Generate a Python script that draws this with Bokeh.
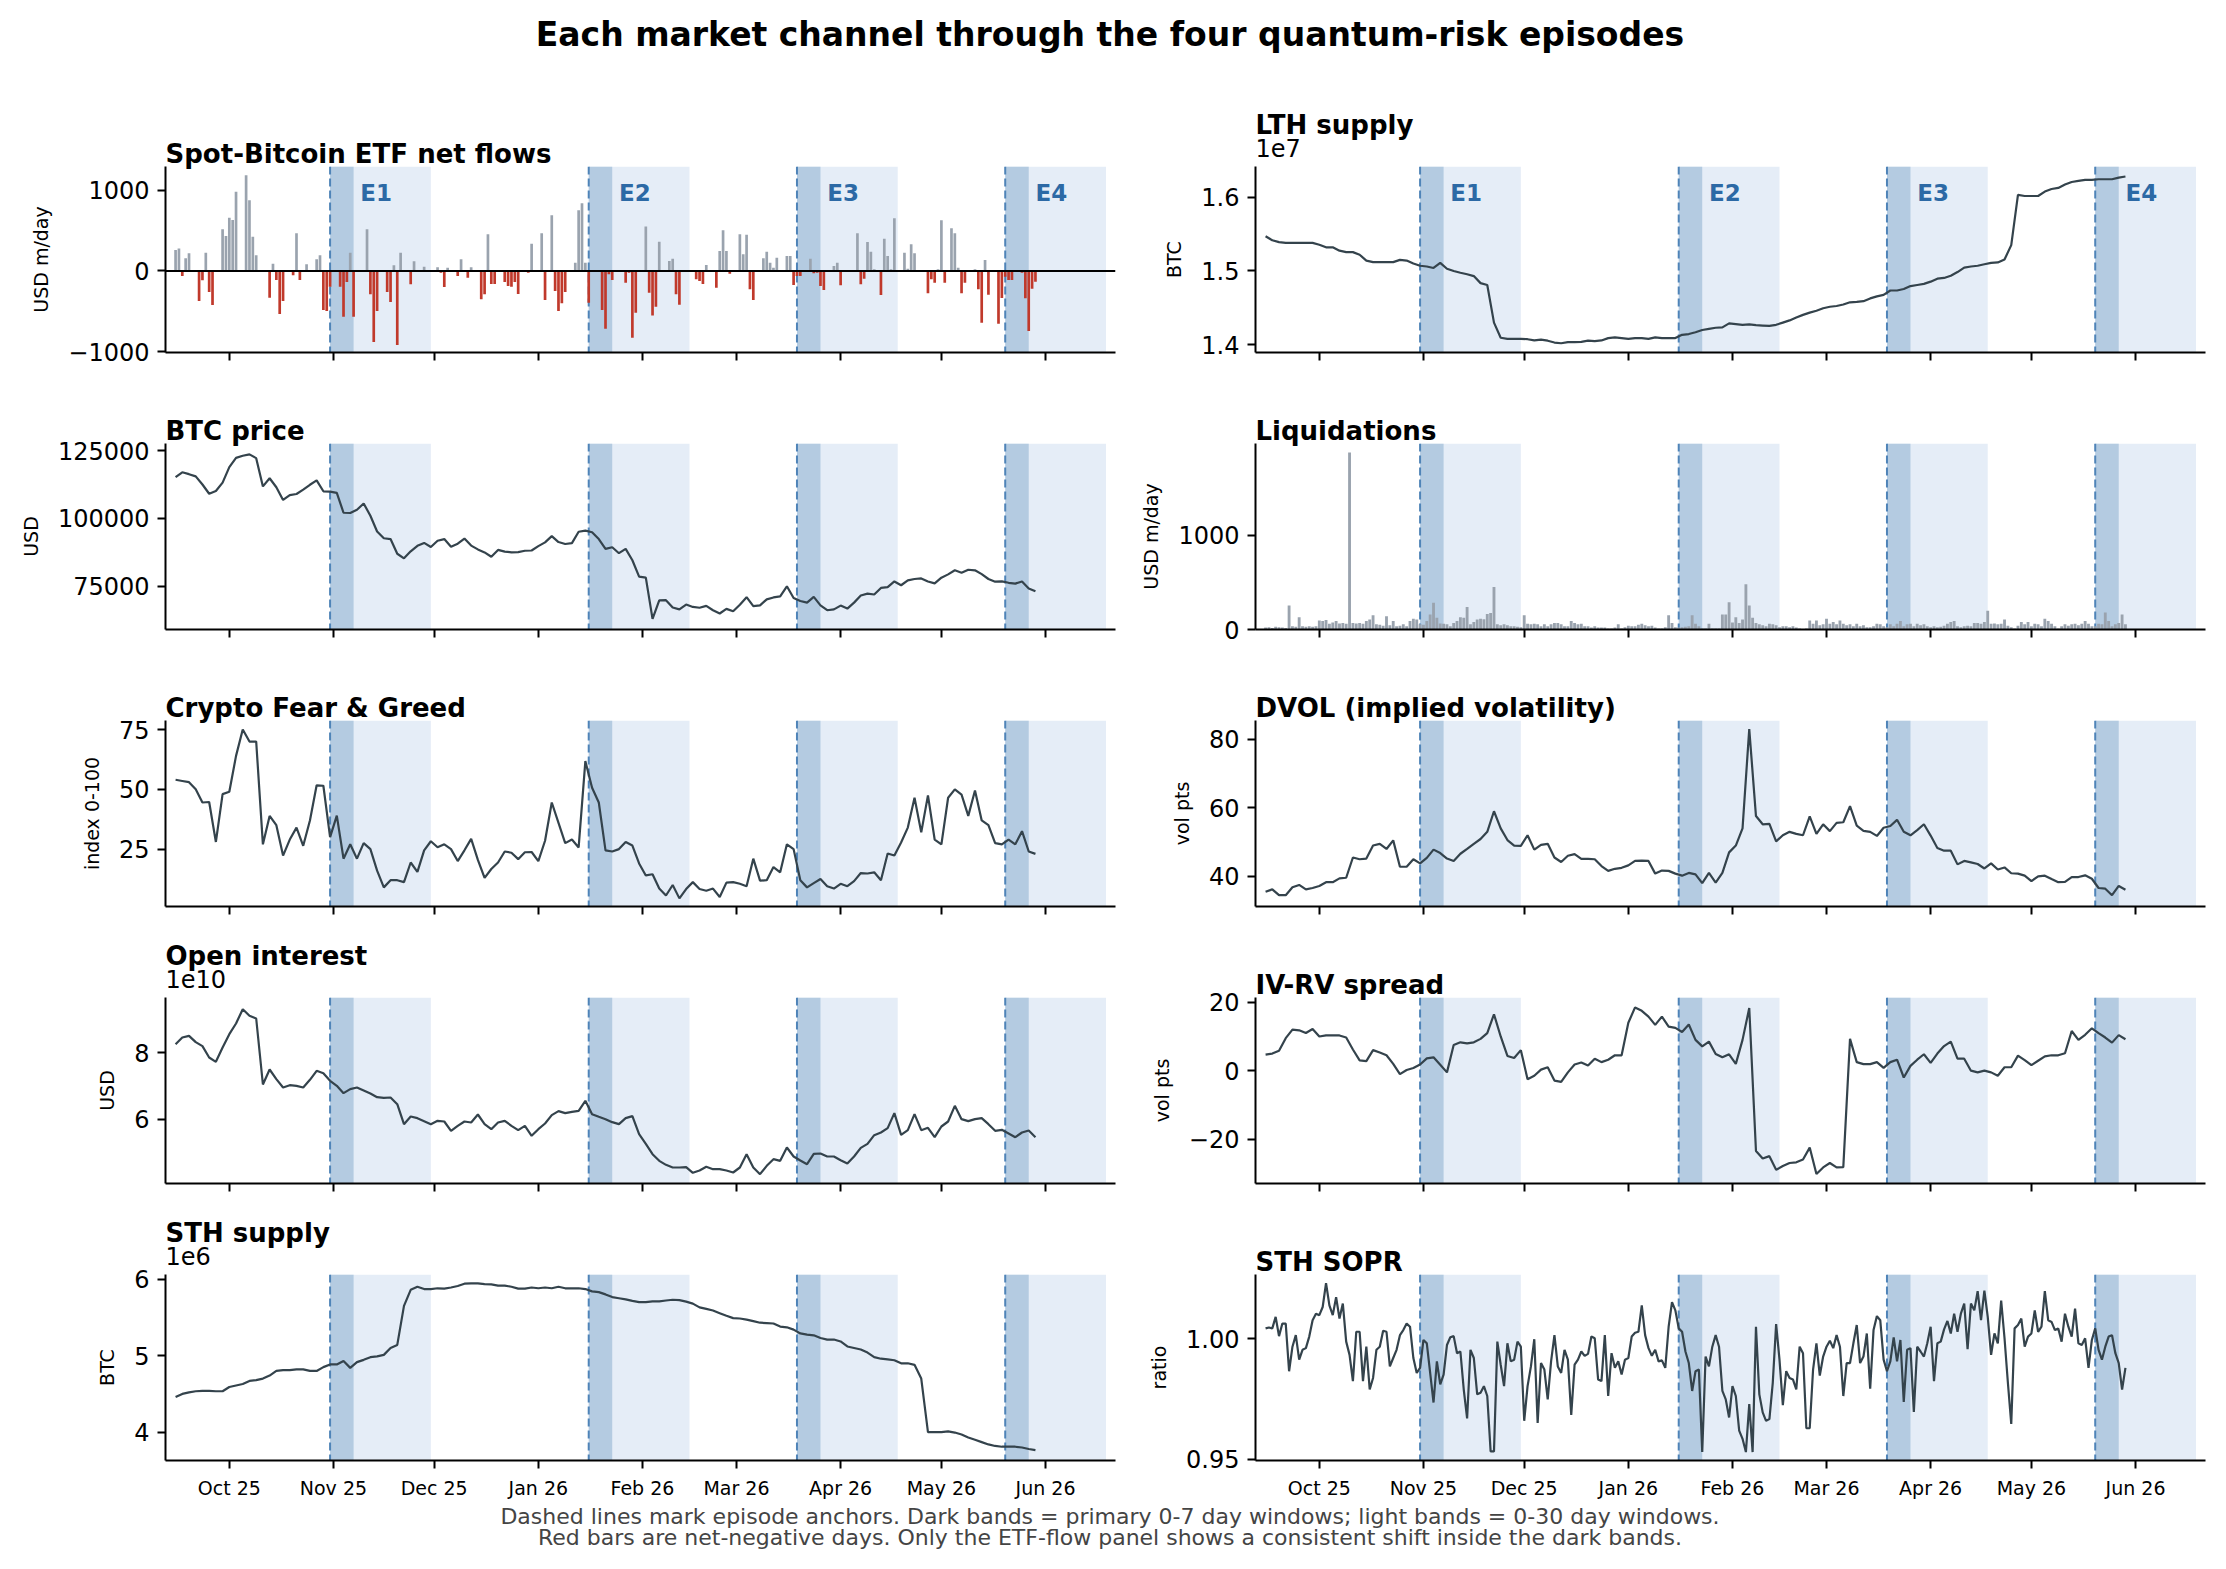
import pandas as pd
from bokeh.plotting import figure
from bokeh.layouts import gridplot, column
from bokeh.models import (Range1d, FixedTicker, MonthsTicker, DatetimeTickFormatter,
                          BoxAnnotation, Span, Label, Title, Div, PrintfTickFormatter,
                          BasicTickFormatter, CustomLabelingPolicy)
from bokeh.embed import file_html
from bokeh.resources import INLINE

# ---------------- data ----------------
series_start = "2025-09-15"          # first observation
episode_names = ["E1", "E2", "E3", "E4"]
episode_anchors = ["2025-10-31", "2026-01-16", "2026-03-19", "2026-05-20"]
primary_window_days = 7
full_window_days = 30

# Spot-Bitcoin ETF net flows, USD m/day (trading days)
etf_dates = [
    "2025-09-15", "2025-09-16", "2025-09-17", "2025-09-18", "2025-09-19", "2025-09-22", "2025-09-23",
    "2025-09-24", "2025-09-25", "2025-09-26", "2025-09-29", "2025-09-30", "2025-10-01", "2025-10-02",
    "2025-10-03", "2025-10-06", "2025-10-07", "2025-10-08", "2025-10-09", "2025-10-13", "2025-10-14",
    "2025-10-15", "2025-10-16", "2025-10-17", "2025-10-20", "2025-10-21", "2025-10-22", "2025-10-24",
    "2025-10-27", "2025-10-28", "2025-10-29", "2025-10-30", "2025-10-31", "2025-11-03", "2025-11-04",
    "2025-11-05", "2025-11-06", "2025-11-07", "2025-11-11", "2025-11-12", "2025-11-13", "2025-11-14",
    "2025-11-17", "2025-11-18", "2025-11-19", "2025-11-20", "2025-11-21", "2025-11-24", "2025-11-25",
    "2025-11-28", "2025-12-02", "2025-12-03", "2025-12-04", "2025-12-05", "2025-12-08", "2025-12-09",
    "2025-12-11", "2025-12-12", "2025-12-15", "2025-12-16", "2025-12-17", "2025-12-18", "2025-12-19",
    "2025-12-22", "2025-12-23", "2025-12-24", "2025-12-25", "2025-12-26", "2025-12-29", "2025-12-30",
    "2026-01-02", "2026-01-03", "2026-01-05", "2026-01-06", "2026-01-07", "2026-01-08", "2026-01-09",
    "2026-01-12", "2026-01-13", "2026-01-14", "2026-01-15", "2026-01-16", "2026-01-20", "2026-01-21",
    "2026-01-22", "2026-01-23", "2026-01-27", "2026-01-28", "2026-01-29", "2026-01-30", "2026-02-02",
    "2026-02-03", "2026-02-04", "2026-02-05", "2026-02-06", "2026-02-09", "2026-02-10", "2026-02-11",
    "2026-02-12", "2026-02-17", "2026-02-18", "2026-02-19", "2026-02-20", "2026-02-23", "2026-02-24",
    "2026-02-25", "2026-02-26", "2026-02-27", "2026-03-02", "2026-03-03", "2026-03-04", "2026-03-05",
    "2026-03-06", "2026-03-09", "2026-03-10", "2026-03-11", "2026-03-12", "2026-03-13", "2026-03-16",
    "2026-03-17", "2026-03-18", "2026-03-19", "2026-03-20", "2026-03-23", "2026-03-24", "2026-03-25",
    "2026-03-26", "2026-03-27", "2026-03-30", "2026-03-31", "2026-04-01", "2026-04-06", "2026-04-07",
    "2026-04-08", "2026-04-09", "2026-04-10", "2026-04-11", "2026-04-13", "2026-04-14", "2026-04-15",
    "2026-04-16", "2026-04-17", "2026-04-20", "2026-04-21", "2026-04-22", "2026-04-23", "2026-04-27",
    "2026-04-28", "2026-04-29", "2026-04-30", "2026-05-01", "2026-05-02", "2026-05-04", "2026-05-05",
    "2026-05-06", "2026-05-07", "2026-05-08", "2026-05-11", "2026-05-12", "2026-05-13", "2026-05-14",
    "2026-05-15", "2026-05-18", "2026-05-19", "2026-05-20", "2026-05-21", "2026-05-22", "2026-05-25",
    "2026-05-26", "2026-05-27", "2026-05-28", "2026-05-29",
]
etf_flows = [
    260, 280, -62, 157, 219, -372, -116,
    227, -260, -421, 516, 434, 661, 632,
    983, 1186, 876, 425, 194, -330, 91,
    -112, -533, -372, -54, 467, -112, 83,
    145, 194, -483, -496, -194, -194, -566,
    -136, 227, -566, 516, -289, -880, -496,
    -260, -384, 70, -917, 227, -165, 120,
    54, 45, -21, -198, 41, -62, 145,
    -83, 45, -351, -289, 455, -161, -161,
    -136, -186, -194, -136, -285, -21, 339,
    467, -360, 690, -248, -496, -401, -260,
    103, 752, 839, 103, -393, -483, -715,
    -41, -112, -145, -21, -826, -516, 550,
    -269, -550, -442, 364, 124, 153, -289,
    -417, -103, -124, -161, 74, -207, 248,
    504, 248, -33, 455, 207, 450, -227,
    -360, 157, 240, 103, 41, 165, 186,
    186, -174, -62, -62, 153, -29, -21,
    -186, -236, 62, 103, -178, 467, -165,
    -95, 360, 240, 21, -298, 401, 186,
    21, 653, 227, 29, 331, 219, -277,
    -103, -145, 21, 628, -145, 529, 467,
    41, -277, -145, 21, -227, -640, 136,
    -293, -653, -335, -70, -112, -112, -21,
    -339, -744, -219, -132,
]

# 2-day sampled series (Sep 15 2025 ... May 29 2026)
btc_price_k = [
    115.2, 117.0, 116.3, 115.5, 112.5, 109.1, 110.1, 113.2, 118.9, 122.3,
    123.1, 123.6, 122.2, 111.8, 114.8, 111.5, 106.8, 108.6, 109.0, 110.6,
    112.4, 114.0, 110.0, 109.9, 109.4, 102.1, 102.0, 103.2, 105.5, 101.0,
    95.2, 92.7, 92.4, 87.0, 85.3, 87.9, 89.9, 91.0, 89.5, 91.8,
    92.4, 89.6, 90.7, 92.6, 90.0, 88.6, 87.5, 85.9, 88.4, 87.8,
    87.5, 87.6, 88.1, 88.2, 89.8, 91.2, 93.5, 91.3, 90.6, 90.9,
    95.1, 95.5, 94.9, 92.4, 88.8, 89.4, 87.2, 88.8, 84.6, 78.6,
    78.2, 63.0, 69.8, 69.9, 67.2, 66.5, 68.3, 67.4, 67.1, 67.8,
    66.2, 65.0, 66.7, 65.8, 68.2, 71.0, 67.7, 68.0, 70.2, 70.9,
    71.3, 75.0, 70.7, 69.6, 69.0, 71.1, 68.0, 66.2, 66.5, 67.9,
    66.8, 69.0, 71.6, 72.3, 72.0, 74.4, 74.7, 76.8, 75.4, 77.2,
    77.7, 77.9, 76.8, 76.1, 78.2, 79.4, 80.9, 80.0, 81.1, 80.9,
    79.5, 77.7, 76.7, 76.8, 76.3, 76.0, 76.8, 74.2, 73.2,
]
fear_greed = [
    54, 53.5, 53, 50, 44.5, 44.7, 28, 48, 49, 64,
    75, 70, 70, 27, 38.9, 35, 22.3, 29, 34, 26.4,
    37, 51.7, 51.5, 30, 39, 21, 27, 21, 27.5, 25,
    16, 9, 12, 12, 11.2, 19.4, 15.5, 24.5, 28.3, 25.8,
    27, 25, 20, 24.5, 29.3, 20.5, 13, 16.7, 19.4, 24,
    23.5, 20.8, 23.7, 23.8, 20, 28.5, 44.5, 36, 27.5, 29,
    25.7, 61.8, 50.7, 44.5, 24.5, 24, 25, 28, 26.5, 19,
    14, 14.5, 8.5, 5.6, 10, 4.4, 8.3, 11.2, 8.3, 7.6,
    8.5, 5, 11, 11.2, 10.5, 9.5, 21, 11.8, 12, 17.5,
    15.3, 27, 25, 12, 9, 10.8, 12.5, 9.5, 8.5, 10.5,
    9.5, 11.6, 15, 14.8, 15.3, 12, 23.2, 22.3, 27.8, 34,
    46.5, 32, 47.5, 29, 27, 46.5, 50, 47.8, 38.9, 49.5,
    37, 35, 27.5, 27, 29, 27, 32.5, 24, 23,
]
open_interest_1e10 = [
    8.25, 8.45, 8.50, 8.31, 8.19, 7.85, 7.72, 8.15, 8.55, 8.87,
    9.30, 9.10, 9.02, 7.04, 7.49, 7.20, 6.95, 7.02, 7.00, 6.95,
    7.18, 7.45, 7.38, 7.15, 7.00, 6.78, 6.90, 6.95, 6.86, 6.77,
    6.66, 6.64, 6.65, 6.45, 5.85, 6.08, 6.03, 5.94, 5.85, 5.95,
    5.93, 5.65, 5.80, 5.93, 5.90, 6.14, 5.85, 5.70, 5.90, 5.95,
    5.80, 5.67, 5.80, 5.50, 5.70, 5.87, 6.12, 6.24, 6.18, 6.22,
    6.25, 6.55, 6.15, 6.07, 6.00, 5.91, 5.85, 6.03, 6.09, 5.55,
    5.26, 4.95, 4.75, 4.63, 4.55, 4.55, 4.56, 4.39, 4.46, 4.57,
    4.50, 4.50, 4.46, 4.40, 4.55, 4.95, 4.55, 4.35, 4.60, 4.80,
    4.75, 5.15, 4.88, 4.76, 4.65, 4.96, 4.97, 4.88, 4.88, 4.77,
    4.67, 4.88, 5.14, 5.26, 5.52, 5.60, 5.73, 6.18, 5.53, 5.67,
    6.15, 5.67, 5.74, 5.46, 5.78, 5.93, 6.40, 6.00, 5.94, 6.00,
    6.03, 5.85, 5.65, 5.68, 5.57, 5.46, 5.60, 5.66, 5.46,
]
sth_supply_1e6 = [
    4.46, 4.50, 4.52, 4.535, 4.54, 4.54, 4.535, 4.535, 4.59, 4.61,
    4.63, 4.67, 4.68, 4.70, 4.74, 4.80, 4.81, 4.81, 4.82, 4.82,
    4.80, 4.80, 4.85, 4.885, 4.885, 4.93, 4.84, 4.915, 4.945, 4.98,
    4.99, 5.01, 5.10, 5.14, 5.65, 5.86, 5.90, 5.87, 5.87, 5.88,
    5.875, 5.89, 5.91, 5.94, 5.945, 5.945, 5.935, 5.93, 5.915, 5.915,
    5.90, 5.875, 5.875, 5.89, 5.88, 5.89, 5.88, 5.90, 5.88, 5.88,
    5.88, 5.87, 5.84, 5.83, 5.80, 5.765, 5.75, 5.735, 5.715, 5.70,
    5.70, 5.71, 5.71, 5.72, 5.73, 5.725, 5.705, 5.68, 5.63, 5.61,
    5.59, 5.555, 5.52, 5.49, 5.485, 5.47, 5.45, 5.43, 5.425, 5.42,
    5.38, 5.37, 5.34, 5.29, 5.275, 5.265, 5.23, 5.21, 5.21, 5.185,
    5.12, 5.10, 5.08, 5.04, 4.98, 4.96, 4.95, 4.94, 4.90, 4.90,
    4.88, 4.70, 4.00, 4.00, 4.00, 4.01, 3.995, 3.97, 3.93, 3.90,
    3.87, 3.84, 3.82, 3.81, 3.81, 3.81, 3.80, 3.78, 3.765,
]
lth_supply_1e7 = [
    1.547, 1.5415, 1.539, 1.538, 1.538, 1.538, 1.538, 1.538, 1.5355, 1.532,
    1.532, 1.5275, 1.5255, 1.5255, 1.522, 1.514, 1.512, 1.512, 1.512, 1.512,
    1.515, 1.514, 1.510, 1.507, 1.506, 1.504, 1.511, 1.503, 1.500, 1.4975,
    1.4955, 1.493, 1.4835, 1.481, 1.430, 1.4095, 1.408, 1.408, 1.408, 1.4075,
    1.406, 1.407, 1.4055, 1.403, 1.402, 1.4035, 1.4035, 1.404, 1.4055, 1.405,
    1.4058, 1.409, 1.410, 1.409, 1.408, 1.409, 1.409, 1.408, 1.410, 1.409,
    1.409, 1.409, 1.4135, 1.4145, 1.417, 1.420, 1.4215, 1.423, 1.4235, 1.429,
    1.428, 1.427, 1.4275, 1.4265, 1.426, 1.4255, 1.427, 1.430, 1.433, 1.437,
    1.4405, 1.4435, 1.446, 1.4495, 1.4515, 1.4525, 1.4545, 1.4575, 1.458, 1.459,
    1.4628, 1.4655, 1.4675, 1.4735, 1.4735, 1.4755, 1.4795, 1.481, 1.4825, 1.4855,
    1.4895, 1.4905, 1.4935, 1.4985, 1.5045, 1.506, 1.507, 1.509, 1.511, 1.5115,
    1.5155, 1.535, 1.603, 1.6015, 1.6015, 1.6015, 1.6075, 1.611, 1.6125, 1.617,
    1.6205, 1.622, 1.6233, 1.6233, 1.6242, 1.6242, 1.6242, 1.6265, 1.628,
]
dvol = [
    35.5, 36.2, 34.5, 34.5, 36.8, 37.5, 36.2, 36.6, 37.2, 38.3,
    38.3, 39.4, 39.6, 45.5, 45.0, 45.2, 49.0, 49.5, 48.0, 50.5,
    42.8, 42.8, 45.0, 43.8, 45.4, 47.8, 46.8, 45.2, 44.5, 46.6,
    48.0, 49.5, 50.9, 53.0, 59.0, 54.0, 50.6, 49.0, 48.9, 52.0,
    47.8, 49.2, 49.5, 45.5, 44.2, 46.0, 46.5, 45.1, 45.1, 45.0,
    43.0, 41.6, 42.2, 42.5, 43.2, 44.5, 44.6, 44.5, 40.8, 41.7,
    41.6, 40.8, 40.2, 41.0, 40.6, 38.0, 41.0, 38.2, 41.0, 47.0,
    49.0, 54.0, 83.0, 57.6, 55.2, 55.3, 50.2, 52.0, 53.0, 52.4,
    52.0, 57.5, 52.4, 55.2, 53.2, 55.6, 55.8, 60.5, 54.8, 53.3,
    53.0, 51.8, 54.2, 54.7, 56.5, 53.0, 52.0, 53.5, 55.2, 51.9,
    48.3, 47.5, 47.5, 43.5, 44.5, 44.1, 43.6, 42.3, 43.8, 42.0,
    42.6, 40.9, 40.8, 40.2, 38.6, 40.0, 40.2, 39.2, 38.3, 38.4,
    39.8, 39.8, 40.3, 39.3, 36.6, 36.4, 34.5, 37.2, 36.1,
]
iv_rv_spread = [
    4.7, 5.0, 5.8, 9.5, 12.0, 11.8, 11.0, 12.2, 10.0, 10.3,
    10.3, 10.3, 9.7, 6.2, 3.0, 2.8, 6.0, 5.3, 4.5, 2.0,
    -1.0, 0.2, 0.8, 1.8, 3.6, 3.9, 1.7, -0.5, 7.5, 8.3,
    8.0, 8.3, 9.3, 11.0, 16.5, 10.0, 4.3, 3.7, 6.0, -2.5,
    -1.5, 0.3, 1.0, -2.9, -3.3, -0.5, 1.8, 2.4, 1.5, 3.5,
    2.5, 3.2, 4.5, 4.5, 14.0, 18.5, 17.5, 15.8, 13.4, 15.8,
    12.9, 12.5, 11.3, 13.5, 9.0, 7.1, 8.5, 4.9, 3.9, 4.8,
    2.0, 9.0, 18.3, -23.5, -25.7, -25.0, -29.0, -27.9, -27.0, -26.8,
    -26.0, -22.5, -30.2, -28.3, -27.0, -28.3, -28.2, 9.3, 2.5, 1.9,
    1.9, 2.5, 0.8, 2.5, 3.2, -2.0, 1.4, 3.2, 4.8, 2.3,
    5.0, 7.2, 8.5, 3.5, 3.5, 0.0, -0.5, 0.0, -0.5, -1.5,
    1.0, 1.0, 4.4, 3.1, 1.6, 2.9, 4.2, 4.5, 4.5, 5.1,
    11.6, 9.0, 10.5, 12.4, 11.0, 9.7, 8.2, 10.4, 9.2,
]

# daily series (Sep 15 2025 ... May 29 2026)
liquidations = [
    20, 25, 15, 30, 25, 20, 15, 255, 35, 30, 130, 35, 30, 35, 30, 35,
    95, 90, 100, 60, 75, 90, 65, 70, 60, 1880,
    70, 65, 70, 60, 90, 105, 150, 55, 50, 40,
    140, 45, 90, 35, 40, 55, 35, 90, 115, 105,
    55, 50, 90, 160, 285, 125, 65, 60, 55, 35,
    70, 90, 130, 125, 240, 55, 80, 105, 115, 110,
    165, 175, 450, 55, 45, 55, 45, 35, 35, 30,
    25, 150, 60, 55, 60, 55, 35, 55, 35, 55,
    70, 70, 55, 35, 35, 90, 70, 55, 60, 35,
    35, 20, 35, 20, 20, 20, 10, 10, 20, 55,
    10, 25, 40, 35, 35, 50, 60, 45, 35, 40,
    20, 10, 10, 25, 150, 70, 25, 20, 25, 30,
    35, 150, 60, 35, 10, 10, 60, 10, 10, 10,
    160, 160, 290, 75, 130, 70, 105, 480, 255, 125,
    70, 55, 45, 35, 60, 55, 45, 25, 35, 35,
    25, 35, 20, 10, 5, 10, 95, 60, 95, 45,
    55, 113, 60, 80, 55, 95, 60, 45, 55, 35,
    60, 35, 45, 25, 25, 35, 60, 55, 35, 25,
    55, 35, 60, 90, 35, 55, 60, 35, 60, 45,
    55, 35, 25, 35, 25, 30, 40, 60, 80, 90,
    35, 25, 35, 40, 35, 70, 70, 60, 80, 200,
    60, 65, 55, 60, 105, 40, 25, 10, 40, 80,
    55, 80, 35, 60, 55, 35, 113, 90, 60, 35,
    10, 35, 55, 40, 55, 60, 45, 60, 90, 60,
    35, 35, 60, 55, 180, 90, 35, 55, 70, 160, 55,
]
sth_sopr = [
    1.0044, 1.0048, 1.0044, 1.0092, 1.0012, 1.0064, 1.0064, 0.9866, 0.9968, 1.0016,
    0.9914, 0.9955, 0.9962, 1.0010, 1.0078, 1.0105, 1.0099, 1.0133, 1.0232, 1.0140,
    1.0099, 1.0174, 1.0085, 1.0147, 0.9989, 0.9934, 0.9825, 1.0030, 1.0030, 0.9825,
    0.9968, 0.9790, 0.9838, 0.9955, 0.9968, 1.0034, 1.0030, 0.9886, 0.9921, 0.9955,
    1.0016, 1.0037, 1.0064, 1.0051, 0.9921, 0.9859, 0.9880, 0.9996, 0.9982, 0.9859,
    0.9736, 0.9907, 0.9811, 0.9852, 0.9975, 1.0007, 1.0012, 0.9941, 0.9948, 0.9790,
    0.9670, 0.9955, 0.9921, 0.9770, 0.9777, 0.9804, 0.9763, 0.9533, 0.9533, 0.9989,
    0.9893, 0.9804, 0.9982, 0.9907, 0.9914, 0.9989, 0.9968, 0.9660, 0.9804, 0.9886,
    0.9999, 0.9651, 0.9900, 0.9873, 0.9749, 0.9907, 1.0016, 0.9886, 0.9859, 0.9955,
    0.9914, 0.9684, 0.9893, 0.9914, 0.9948, 0.9930, 0.9938, 1.0010, 1.0003, 0.9832,
    0.9825, 1.0016, 0.9763, 0.9941, 0.9880, 0.9907, 0.9852, 0.9914, 0.9921, 1.0010,
    1.0026, 1.0030, 1.0140, 1.0016, 0.9962, 0.9930, 0.9955, 0.9907, 0.9911, 0.9880,
    1.0051, 1.0153, 1.0119, 1.0044, 1.0030, 0.9948, 0.9900, 0.9784, 0.9866, 0.9873,
    0.9530, 0.9927, 0.9886, 0.9968, 1.0016, 0.9968, 0.9784, 0.9749, 0.9674, 0.9804,
    0.9763, 0.9619, 0.9585, 0.9530, 0.9729, 0.9530, 1.0051, 0.9770, 0.9695, 0.9660,
    0.9667, 0.9818, 1.0062, 0.9914, 0.9725, 0.9866, 0.9838, 0.9832, 0.9790, 0.9968,
    0.9941, 0.9629, 0.9629, 0.9873, 0.9982, 0.9848, 0.9927, 0.9968, 0.9993, 0.9962,
    1.0016, 0.9968, 0.9763, 0.9900, 0.9900, 0.9982, 1.0058, 0.9900, 0.9927, 1.0023,
    0.9793, 1.0037, 1.0095, 1.0078, 0.9914, 0.9866, 0.9907, 1.0007, 0.9907, 0.9996,
    0.9738, 0.9955, 0.9962, 0.9697, 0.9968, 0.9948, 0.9927, 0.9982, 1.0051, 0.9825,
    0.9982, 0.9989, 1.0040, 1.0075, 1.0023, 1.0105, 1.0030, 1.0105, 1.0147, 0.9958,
    1.0147, 1.0119, 1.0199, 1.0078, 1.0201, 1.0092, 0.9934, 1.0023, 0.9982, 1.0160,
    1.0003, 0.9818, 0.9647, 1.0044, 1.0058, 1.0085, 0.9968, 1.0010, 1.0023, 1.0119,
    1.0030, 1.0051, 1.0199, 1.0078, 1.0071, 1.0037, 1.0044, 0.9989, 1.0105, 1.0051,
    1.0010, 1.0126, 0.9982, 0.9975, 1.0003, 0.9880, 0.9996, 1.0044, 0.9955, 0.9914,
    0.9968, 1.0010, 1.0016, 0.9941, 0.9900, 0.9790, 0.9880,
]

title_text = "Each market channel through the four quantum-risk episodes"
footer_lines = [
    "Dashed lines mark episode anchors. Dark bands = primary 0-7 day windows; light bands = 0-30 day windows.",
    "Red bars are net-negative days. Only the ETF-flow panel shows a consistent shift inside the dark bands.",
]

# ---------------- styling ----------------
FONT = "DejaVu Sans"
LINE_COLOR = "#34434c"
BAR_GRAY = "#9aa3ae"
BAR_RED = "#c0392b"
DARK_BAND = "#b4cbe1"
LIGHT_BAND = "#e5edf7"
ANCHOR_COLOR = "#4f84b8"
ELABEL_COLOR = "#2c69a5"
DAY_MS = 86400000.0


def ms(t):
    return pd.Timestamp(t).value / 1e6


dates_2d = pd.date_range(series_start, periods=len(btc_price_k), freq="2D")
dates_1d = pd.date_range(series_start, periods=len(liquidations), freq="D")
etf_x = pd.to_datetime(etf_dates)

x_range = Range1d(start=ms("2025-09-12"), end=ms("2026-06-21 20:00"))

HIDE_LABELS = "for (const i of indices) { indices.unset(i) }\nreturn indices"


def make_panel(title, ylabel, yr, yticks, left_col, last_row, offset_text=None,
               fmt=None, overrides=None, episode_labels=False):
    p = figure(x_axis_type="datetime", x_range=x_range, y_range=Range1d(*yr),
               frame_width=950, frame_height=186,
               min_border_left=165 if left_col else 130, min_border_right=10,
               min_border_top=71, min_border_bottom=42 if last_row else 20,
               toolbar_location=None, output_backend="svg")
    p.outline_line_color = None
    p.xgrid.visible = False
    p.ygrid.visible = False
    p.background_fill_color = "white"
    p.border_fill_color = "white"

    # titles stack upward from the frame: exponent text first, panel title above it
    if offset_text:
        p.add_layout(Title(text=offset_text, text_font=FONT, text_font_size="24px",
                           text_font_style="normal", align="left", standoff=20,
                           text_color="black"), "above")
        p.add_layout(Title(text=title, text_font=FONT, text_font_size="26px",
                           text_font_style="bold", align="left", standoff=-27,
                           text_color="black"), "above")
    else:
        p.add_layout(Title(text=title, text_font=FONT, text_font_size="26px",
                           text_font_style="bold", align="left", standoff=-5,
                           text_color="black"), "above")

    # axes
    for ax in (p.xaxis[0], p.yaxis[0]):
        ax.axis_line_width = 2
        ax.axis_line_color = "black"
        ax.major_tick_line_width = 2
        ax.major_tick_line_color = "black"
        ax.major_tick_out = 8
        ax.major_tick_in = 0
        ax.minor_tick_line_color = None
        ax.major_label_text_font = FONT
        ax.major_label_text_color = "black"
    xa = p.xaxis[0]
    xa.ticker = MonthsTicker(months=list(range(12)))
    xa.formatter = DatetimeTickFormatter(days="%b %y", months="%b %y", years="%b %y")
    if last_row:
        xa.major_label_text_font_size = "19px"
        xa.major_label_standoff = 8
    else:
        # shared x axis: tick marks only, no labels (like sharex=True)
        xa.major_label_policy = CustomLabelingPolicy(code=HIDE_LABELS)
        xa.major_label_text_font_size = "1px"
        xa.major_label_standoff = 0
    ya = p.yaxis[0]
    ya.ticker = FixedTicker(ticks=yticks, minor_ticks=[])
    ya.major_label_text_font_size = "24px"
    ya.major_label_standoff = 8
    ya.axis_label = ylabel
    ya.axis_label_text_font = FONT
    ya.axis_label_text_font_size = "19px"
    ya.axis_label_text_font_style = "normal"
    ya.axis_label_text_color = "black"
    ya.axis_label_standoff = 13
    if fmt is not None:
        ya.formatter = fmt
    else:
        ya.formatter = BasicTickFormatter(use_scientific=False)
    if overrides:
        ya.major_label_overrides = overrides

    # episode windows
    for name, a in zip(episode_names, episode_anchors):
        a_ms = ms(a)
        p.add_layout(BoxAnnotation(left=a_ms, right=a_ms + full_window_days * DAY_MS,
                                   fill_color=LIGHT_BAND, fill_alpha=1.0, line_color=None,
                                   level="underlay"))
        p.add_layout(BoxAnnotation(left=a_ms, right=a_ms + primary_window_days * DAY_MS,
                                   fill_color=DARK_BAND, fill_alpha=1.0, line_color=None,
                                   level="underlay"))
        p.add_layout(Span(location=a_ms, dimension="height", line_color=ANCHOR_COLOR,
                          line_width=2, line_dash="8 4", level="underlay"))
        if episode_labels:
            p.add_layout(Label(x=a_ms + 9 * DAY_MS, y=yr[0] + 0.855 * (yr[1] - yr[0]),
                               text=name, text_font=FONT, text_font_size="23px",
                               text_font_style="bold", text_color=ELABEL_COLOR,
                               text_align="left", text_baseline="middle"))
    return p


def add_line(p, x, y):
    p.line(x=x, y=y, line_color=LINE_COLOR, line_width=2.2)


# ---------------- left column ----------------
p_etf = make_panel("Spot-Bitcoin ETF net flows", "USD m/day", (-1010, 1295),
                   [-1000, 0, 1000], True, False, overrides={-1000: "\u22121000"},
                   episode_labels=True)
etf_colors = [BAR_RED if v < 0 else BAR_GRAY for v in etf_flows]
p_etf.vbar(x=etf_x, top=etf_flows, bottom=0, width=0.8 * DAY_MS,
           fill_color=etf_colors, line_color=None)
p_etf.add_layout(Span(location=0, dimension="width", line_color="black", line_width=2))

p_btc = make_panel("BTC price", "USD", (59100, 127600), [75000, 100000, 125000], True, False)
add_line(p_btc, dates_2d, [v * 1000 for v in btc_price_k])

p_fg = make_panel("Crypto Fear & Greed", "index 0-100", (1.0, 78.8), [25, 50, 75], True, False)
add_line(p_fg, dates_2d, fear_greed)

p_oi = make_panel("Open interest", "USD", (4.07, 9.65), [6, 8], True, False, offset_text="1e10",
                  fmt=PrintfTickFormatter(format="%d"))
add_line(p_oi, dates_2d, open_interest_1e10)

p_sth = make_panel("STH supply", "BTC", (3.63, 6.06), [4, 5, 6], True, True, offset_text="1e6",
                   fmt=PrintfTickFormatter(format="%d"))
add_line(p_sth, dates_2d, sth_supply_1e6)

# ---------------- right column ----------------
p_lth = make_panel("LTH supply", "BTC", (1.3895, 1.6415), [1.4, 1.5, 1.6], False, False,
                   offset_text="1e7", fmt=PrintfTickFormatter(format="%.1f"), episode_labels=True)
add_line(p_lth, dates_2d, lth_supply_1e7)

p_liq = make_panel("Liquidations", "USD m/day", (0, 1975), [0, 1000], False, False)
p_liq.vbar(x=dates_1d, top=liquidations, bottom=0, width=0.85 * DAY_MS,
           fill_color=BAR_GRAY, line_color=None)

p_dvol = make_panel("DVOL (implied volatility)", "vol pts", (31.2, 85.5), [40, 60, 80], False, False)
add_line(p_dvol, dates_2d, dvol)

p_ivrv = make_panel("IV-RV spread", "vol pts", (-33.0, 21.4), [-20, 0, 20], False, False,
                    overrides={-20: "\u221220"})
add_line(p_ivrv, dates_2d, iv_rv_spread)

p_sopr = make_panel("STH SOPR", "ratio", (0.9495, 1.0268), [0.95, 1.0], False, True,
                    fmt=PrintfTickFormatter(format="%.2f"))
add_line(p_sopr, dates_1d, sth_sopr)

grid = gridplot([[p_etf, p_lth], [p_btc, p_liq], [p_fg, p_dvol], [p_oi, p_ivrv], [p_sth, p_sopr]],
                toolbar_location=None)

title_div = Div(text=(f'<div style="font-family:\'DejaVu Sans\';font-size:33px;font-weight:bold;'
                      f'text-align:center;width:2210px;line-height:40px;padding-top:10px;color:black;">'
                      f'{title_text}</div>'), width=2210, height=85)
footer_div = Div(text=(f'<div style="font-family:\'DejaVu Sans\';font-size:22px;color:#444444;'
                       f'text-align:center;width:2210px;line-height:21px;margin-top:-1px;">'
                       f'{footer_lines[0]}<br>{footer_lines[1]}</div>'), width=2210, height=56)

layout = column(title_div, grid, footer_div)

with open("out.html", "w") as f:
    f.write(file_html(layout, INLINE, title="quantum-risk episodes"))
